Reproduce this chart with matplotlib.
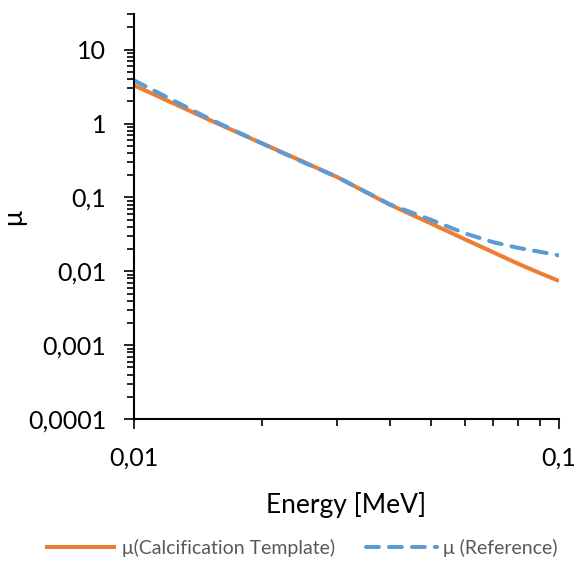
import matplotlib
matplotlib.use('Agg')
import matplotlib.pyplot as plt
from matplotlib.ticker import FixedLocator, FixedFormatter, LogLocator, NullFormatter

plt.rcParams['font.family'] = ['Lato', 'DejaVu Sans']

# values
energy = [0.01, 0.015, 0.02, 0.025, 0.03, 0.04, 0.05, 0.06, 0.07, 0.08, 0.09, 0.1]
mu_template = [3.3, 1.13, 0.54, 0.305, 0.19, 0.0797, 0.0443, 0.0272, 0.0181, 0.0127, 0.0095, 0.0074]
mu_reference = [3.85, 1.17, 0.54, 0.30, 0.19, 0.0805, 0.0497, 0.0327, 0.0248, 0.0208, 0.0184, 0.0164]

x_ticks = [0.01, 0.1]
x_labels = ['0,01', '0,1']
y_ticks = [0.0001, 0.001, 0.01, 0.1, 1, 10]
y_labels = ['0,0001', '0,001', '0,01', '0,1', '1', '10']

orange = '#ED7D31'
blue = '#5B9BD5'

fig = plt.figure(figsize=(5.76, 5.61), dpi=100)
ax = fig.add_axes([0.2326, 0.2531, 0.7379, 0.7211])

ax.plot(energy, mu_template, color=orange, lw=2.9, solid_capstyle='butt',
        label='μ(Calcification Template)')
ax.plot(energy, mu_reference, color=blue, lw=2.9, dashes=(3.2, 2.5),
        dash_capstyle='round', label='μ (Reference)')

ax.set_xscale('log')
ax.set_yscale('log')
ax.set_xlim(0.01, 0.1)
ax.set_ylim(0.0001, 30)

ax.xaxis.set_major_locator(FixedLocator(x_ticks))
ax.xaxis.set_major_formatter(FixedFormatter(x_labels))
ax.yaxis.set_major_locator(FixedLocator(y_ticks))
ax.yaxis.set_major_formatter(FixedFormatter(y_labels))
ax.xaxis.set_minor_locator(LogLocator(base=10, subs=range(2, 10)))
ax.yaxis.set_minor_locator(LogLocator(base=10, subs=range(2, 10), numticks=20))
ax.xaxis.set_minor_formatter(NullFormatter())
ax.yaxis.set_minor_formatter(NullFormatter())

for side in ['top', 'right']:
    ax.spines[side].set_visible(False)
for side in ['left', 'bottom']:
    ax.spines[side].set_linewidth(1.5)

ax.tick_params(which='major', length=7, width=1.2, labelsize=18, pad=13, colors='black')
ax.tick_params(which='minor', length=5, width=1.2)

ax.set_xlabel('Energy [MeV]', fontsize=19)
ax.set_ylabel('μ', fontsize=19)
ax.xaxis.set_label_coords(0.5, -0.18)
ax.yaxis.set_label_coords(-0.254, 0.5)

fig.legend(loc='center', bbox_to_anchor=(0.523, 0.023), ncol=2, frameon=False,
           fontsize=14, labelcolor='#595959', handlelength=3.65,
           handletextpad=0.3, columnspacing=1.6)

fig.savefig('out.png', dpi=100)
